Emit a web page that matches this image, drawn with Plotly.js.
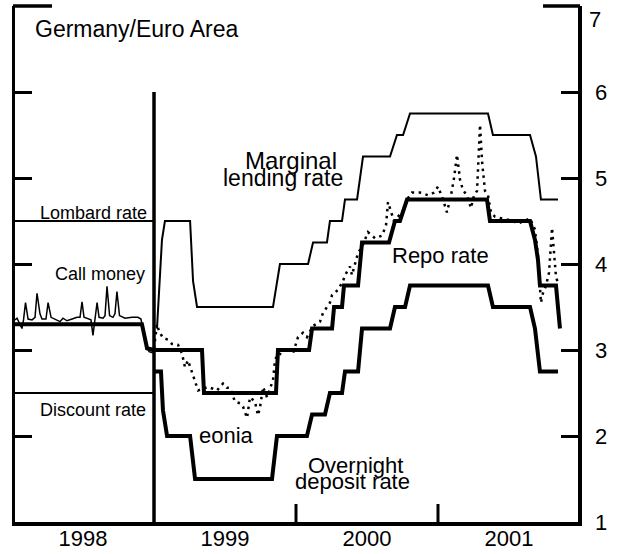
<!DOCTYPE html>
<html><head><meta charset="utf-8">
<script src="https://cdn.plot.ly/plotly-3.0.1.min.js"></script>
<style>html,body{margin:0;padding:0;background:#fff}#chart{width:619px;height:554px}</style>
</head><body><div id="chart"></div>
<script>
// Time is in decimal years; rates in percent.
const lombardT = [1998.021, 1999.0];
const lombardV = [4.5, 4.5];
const discountT = [1998.021, 1999.0];
const discountV = [2.5, 2.5];

const callT = [1998.021,1998.035,1998.056,1998.070,1998.081,1998.095,1998.113,1998.141,1998.162,1998.176,1998.197,1998.211,1998.239,1998.254,1998.275,1998.303,1998.338,1998.359,1998.387,1998.423,1998.458,1998.479,1998.493,1998.507,1998.535,1998.556,1998.570,1998.585,1998.599,1998.613,1998.641,1998.655,1998.669,1998.687,1998.711,1998.725,1998.739,1998.757,1998.796,1998.845,1998.887,1998.908,1998.923,1998.944,1998.965,1998.986,1999.0];
const callV = [3.35,3.37,3.30,3.25,3.35,3.55,3.36,3.35,3.38,3.66,3.42,3.36,3.36,3.55,3.38,3.36,3.33,3.37,3.34,3.36,3.38,3.38,3.56,3.38,3.36,3.35,3.17,3.36,3.55,3.38,3.37,3.40,3.74,3.40,3.38,3.42,3.68,3.40,3.37,3.38,3.38,3.36,3.22,3.05,2.98,2.97,3.02];

const deRepoT = [1998.021, 1998.915, 1998.951, 1999.0];
const deRepoV = [3.3, 3.3, 3.02, 3.0];

const repoT = [1999.0,1999.338,1999.352,1999.859,1999.873,2000.092,2000.113,2000.254,2000.268,2000.324,2000.338,2000.437,2000.465,2000.655,2000.697,2000.732,2000.782,2001.345,2001.366,2001.648,2001.683,2001.704,2001.718,2001.831,2001.859];
const repoV = [3.0,3.0,2.5,2.5,3.0,3.0,3.25,3.25,3.5,3.5,3.75,3.75,4.25,4.25,4.5,4.5,4.75,4.75,4.5,4.5,4.28,4.05,3.75,3.75,3.25];

const mlrT = [1999.021,1999.056,1999.077,1999.254,1999.275,1999.303,1999.838,1999.887,2000.085,2000.120,2000.218,2000.239,2000.324,2000.345,2000.430,2000.472,2000.662,2000.711,2000.754,2000.803,2001.352,2001.387,2001.648,2001.690,2001.725,2001.845];
const mlrV = [3.25,4.28,4.5,4.5,3.8,3.5,3.5,4.0,4.0,4.25,4.25,4.5,4.5,4.75,4.75,5.25,5.25,5.5,5.5,5.75,5.75,5.5,5.5,5.25,4.75,4.75];

const depT = [1999.0,1999.049,1999.063,1999.092,1999.254,1999.289,1999.831,1999.866,2000.077,2000.113,2000.204,2000.239,2000.324,2000.345,2000.437,2000.465,2000.662,2000.697,2000.768,2000.803,2001.352,2001.387,2001.648,2001.683,2001.718,2001.845];
const depV = [2.75,2.75,2.3,2.0,2.0,1.5,1.5,2.0,2.0,2.25,2.25,2.5,2.5,2.75,2.75,3.25,3.25,3.5,3.5,3.75,3.75,3.5,3.5,3.25,2.75,2.75];

const eoniaT = [1999.000,1999.007,1999.021,1999.035,1999.063,1999.099,1999.127,1999.169,1999.197,1999.218,1999.239,1999.268,1999.289,1999.310,1999.345,1999.380,1999.415,1999.444,1999.486,1999.514,1999.535,1999.570,1999.606,1999.627,1999.655,1999.676,1999.711,1999.732,1999.746,1999.768,1999.796,1999.817,1999.838,1999.852,1999.873,1999.901,1999.937,1999.979,2000.014,2000.049,2000.077,2000.120,2000.169,2000.190,2000.239,2000.254,2000.296,2000.331,2000.345,2000.380,2000.394,2000.437,2000.465,2000.507,2000.556,2000.606,2000.634,2000.648,2000.669,2000.690,2000.718,2000.754,2000.782,2000.817,2000.873,2000.930,2000.972,2001.000,2001.035,2001.063,2001.092,2001.113,2001.134,2001.155,2001.176,2001.204,2001.232,2001.254,2001.275,2001.296,2001.310,2001.331,2001.352,2001.373,2001.401,2001.451,2001.493,2001.528,2001.563,2001.606,2001.648,2001.683,2001.704,2001.725,2001.739,2001.761,2001.782,2001.803,2001.817,2001.831,2001.845];
const eoniaV = [3.02,3.10,3.30,3.22,3.14,3.12,3.07,3.06,2.96,2.80,2.88,2.74,2.63,2.53,2.55,2.57,2.55,2.53,2.61,2.56,2.56,2.40,2.38,2.34,2.21,2.45,2.40,2.24,2.33,2.57,2.45,2.55,2.65,2.88,2.96,2.95,3.03,2.96,3.15,3.20,3.15,3.28,3.33,3.43,3.55,3.64,3.70,3.80,3.87,3.97,3.87,4.13,4.20,4.37,4.30,4.33,4.45,4.72,4.60,4.50,4.55,4.62,4.75,4.83,4.83,4.80,4.83,4.90,4.75,4.60,4.80,5.00,5.27,4.98,4.86,4.80,4.65,4.80,4.85,5.62,5.20,4.85,4.80,4.60,4.55,4.53,4.52,4.50,4.47,4.50,4.53,4.40,4.10,3.55,3.66,3.75,3.90,4.42,4.10,3.85,3.78];

const yearTicks = [1998.5, 1999.5, 2000.5, 2001.5];
const yearLabels = ['1998', '1999', '2000', '2001'];
const rateTicks = [1, 2, 3, 4, 5, 6];
const rateLabels = ['1', '2', '3', '4', '5', '6'];
const topRateLabel = '7';
const yearBoundaries = [2000.0, 2001.0];
const EURO_START = 1999.0;
const X_RANGE = [1998.021, 2001.986];
const Y_RANGE = [1, 7];

const FONT = 'Liberation Sans, Arial, Helvetica, sans-serif';
const K = '#000';

function line(x, y, w, dash) {
  return {x: x, y: y, type: 'scatter', mode: 'lines', hoverinfo: 'skip',
    line: {color: K, width: w, dash: dash || 'solid'}, showlegend: false};
}

const traces = [
  line(lombardT, lombardV, 2),
  line(discountT, discountV, 2),
  line(callT, callV, 1.5),
  line(deRepoT, deRepoV, 4),
  line(mlrT, mlrV, 2),
  line(depT, depV, 4),
  line(eoniaT, eoniaV, 2.5, '2.5px,4.5px'),
  line(repoT, repoV, 4)
];

// label placement helpers (pixel -> axis units)
const px2x = px => 1999 + (px - 154) / 142;
const px2y = py => 1 + (522 - py) / 86;

function lab(text, px, py, size, xanchor) {
  return {text: text, x: px2x(px), y: px2y(py), xref: 'x', yref: 'y', showarrow: false,
    xanchor: xanchor, yanchor: 'middle', font: {family: FONT, size: size, color: K}};
}

const annotations = [
  lab('Germany/Euro Area', 33, 28.5, 23, 'left'),
  lab('Lombard rate', 149, 212.5, 18, 'right'),
  lab('Call money', 147, 274, 18, 'right'),
  lab('Discount rate', 148, 409.5, 18, 'right'),
  lab('Marginal', 291, 160, 24, 'center'),
  lab('lending rate', 283, 178, 23, 'center'),
  lab('Repo rate', 440, 255.5, 22, 'center'),
  lab('eonia', 226, 435, 22, 'center'),
  lab('Overnight', 355, 465, 22, 'center'),
  lab('deposit rate', 352, 481, 22, 'center'),
  {text: topRateLabel, x: 1, xref: 'paper', xanchor: 'left', xshift: 9, y: Y_RANGE[1], yref: 'y',
    yanchor: 'top', yshift: 1, showarrow: false, font: {family: FONT, size: 22, color: K}}
];

const shapes = [
  {type: 'line', xref: 'x', yref: 'y', x0: EURO_START, x1: EURO_START, y0: 1, y1: 6,
    line: {color: K, width: 3.5}},
  {type: 'line', xref: 'paper', yref: 'paper', xsizemode: 'pixel', xanchor: 0, x0: -2, x1: 37, y0: 1, y1: 1,
    line: {color: K, width: 3.5}},
  {type: 'line', xref: 'paper', yref: 'paper', xsizemode: 'pixel', xanchor: 1, x0: -35, x1: 2, y0: 1, y1: 1,
    line: {color: K, width: 3.5}}
];
yearBoundaries.forEach(b => shapes.push({type: 'line', xref: 'x', yref: 'paper', ysizemode: 'pixel',
  yanchor: 0, x0: b, x1: b, y0: 0, y1: 18, line: {color: K, width: 3}}));

const layout = {
  width: 619, height: 554,
  margin: {l: 15, r: 41, t: 6, b: 32, pad: 0},
  paper_bgcolor: '#fff', plot_bgcolor: '#fff',
  font: {family: FONT, color: K},
  showlegend: false,
  xaxis: {range: X_RANGE, showline: true, linewidth: 3.5, linecolor: K, showgrid: false, zeroline: false,
    tickmode: 'array', tickvals: yearTicks, ticktext: yearLabels, ticks: '',
    tickfont: {family: FONT, size: 22, color: K}, ticklabelstandoff: -6},
  yaxis: {range: Y_RANGE, side: 'right', showline: true, mirror: 'ticks', linewidth: 3.5, linecolor: K,
    showgrid: false, zeroline: false, ticks: 'inside', ticklen: 17, tickwidth: 3, tickcolor: K,
    tickmode: 'array', tickvals: rateTicks, ticktext: rateLabels,
    tickfont: {family: FONT, size: 22, color: K}, ticklabelstandoff: 9},
  annotations: annotations,
  shapes: shapes
};

Plotly.newPlot('chart', traces, layout, {displayModeBar: false, staticPlot: true});
</script>
</body></html>
